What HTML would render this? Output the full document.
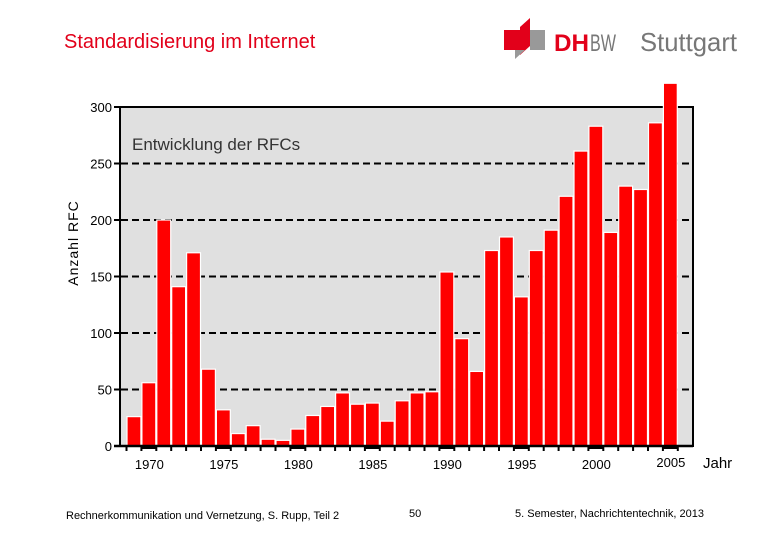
<!DOCTYPE html>
<html><head><meta charset="utf-8"><style>
body{margin:0;background:#fff;width:780px;height:540px;overflow:hidden;font-family:"Liberation Sans",sans-serif}
svg{display:block}
</style></head><body>
<svg width="780" height="540">
<text x="64" y="48" font-size="20" fill="#e2001a">Standardisierung im Internet</text>
<g>
<polygon points="504,30 520,30 520,50 504,50" fill="#e2001a"/>
<polygon points="520,27 530,18 530,46 520,55" fill="#e2001a"/>
<polygon points="530,30 545,30 545,50 530,50" fill="#999"/>
<polygon points="515,50 525,50 515,59" fill="#999"/>
<text x="554" y="51" font-size="24" font-weight="bold" fill="#e2001a" textLength="35" lengthAdjust="spacingAndGlyphs">DH</text>
<text x="590" y="51" font-size="24" fill="#777" textLength="26" lengthAdjust="spacingAndGlyphs">BW</text>
<text x="640" y="51" font-size="26" fill="#777" textLength="97" lengthAdjust="spacingAndGlyphs">Stuttgart</text>
</g>
<rect x="120" y="107" width="573" height="339" fill="#e0e0e0" stroke="#000" stroke-width="2"/>
<g id="grid"></g>
<text x="132" y="150" font-size="17" fill="#333">Entwicklung der RFCs</text>
<g id="bars"></g>
<g id="axes"></g>
<text transform="translate(78,243) rotate(-90)" text-anchor="middle" font-size="14" fill="#000" letter-spacing="1">Anzahl RFC</text>
<text x="703" y="468" font-size="15" fill="#000">Jahr</text>
<text x="66" y="519" font-size="11" fill="#000">Rechnerkommunikation und Vernetzung, S. Rupp, Teil 2</text>
<text x="409" y="517" font-size="11" fill="#000">50</text>
<text x="515" y="517" font-size="11" fill="#000">5. Semester, Nachrichtentechnik, 2013</text>
</svg>
<script>
const years=[1969,1970,1971,1972,1973,1974,1975,1976,1977,1978,1979,1980,1981,1982,1983,1984,1985,1986,1987,1988,1989,1990,1991,1992,1993,1994,1995,1996,1997,1998,1999,2000,2001,2002,2003,2004,2005];
const counts=[26,56,200,141,171,68,32,11,18,6,5,15,27,35,47,37,38,22,40,47,48,154,95,66,173,185,132,173,191,221,261,283,189,230,227,286,321];
const yTicks=[0,50,100,150,200,250,300];
const xLabels=[1970,1975,1980,1985,1990,1995,2000,2005];
const NS="http://www.w3.org/2000/svg";
const y0=446,k=1.13,x0=127,step=14.9;
const ys=v=>y0-v*k;
const xs=yr=>x0+(yr-years[0])*step;
function mk(t,a,p){const e=document.createElementNS(NS,t);for(const n in a)e.setAttribute(n,a[n]);p.appendChild(e);return e;}
const grid=document.getElementById('grid'),bars=document.getElementById('bars'),axes=document.getElementById('axes');
yTicks.forEach(v=>{
 if(v>0&&v<300){const l=mk('line',{x1:121,x2:692,y1:ys(v),y2:ys(v),stroke:'#000','stroke-width':2,'stroke-dasharray':'7,4'},grid);
 
 }
 const tk=mk('line',{x1:114,x2:121,y1:ys(v),y2:ys(v),stroke:'#000','stroke-width':2},axes);
 const t=mk('text',{x:112,y:ys(v)+5,'text-anchor':'end','font-size':13,fill:'#000'},axes);
 t.textContent=v;
 
 
});
years.forEach((yr,i)=>{
 const h=counts[i]*k;
 const r=mk('rect',{x:xs(yr),y:y0-h,width:step-1,height:h,fill:'#ff0000',stroke:'#fff','stroke-width':1.2},bars);
 
 
});
mk('line',{x1:114,x2:693,y1:y0,y2:y0,stroke:'#000','stroke-width':2.5},axes);
for(let i=0;i<=years.length;i++){mk('line',{x1:x0+i*step-0.5,x2:x0+i*step-0.5,y1:y0,y2:y0+5,stroke:'#000','stroke-width':2},axes);}
xLabels.forEach(yr=>{
 const cx=xs(yr)+step/2;
 mk('rect',{x:xs(yr),y:y0,width:step,height:3,fill:'#000'},axes);
 const t=mk('text',{x:cx,y:yr===2005?467:469,'text-anchor':'middle','font-size':13,fill:'#000'},axes);
 t.textContent=yr;
 
 
});
</script>
</body></html>
